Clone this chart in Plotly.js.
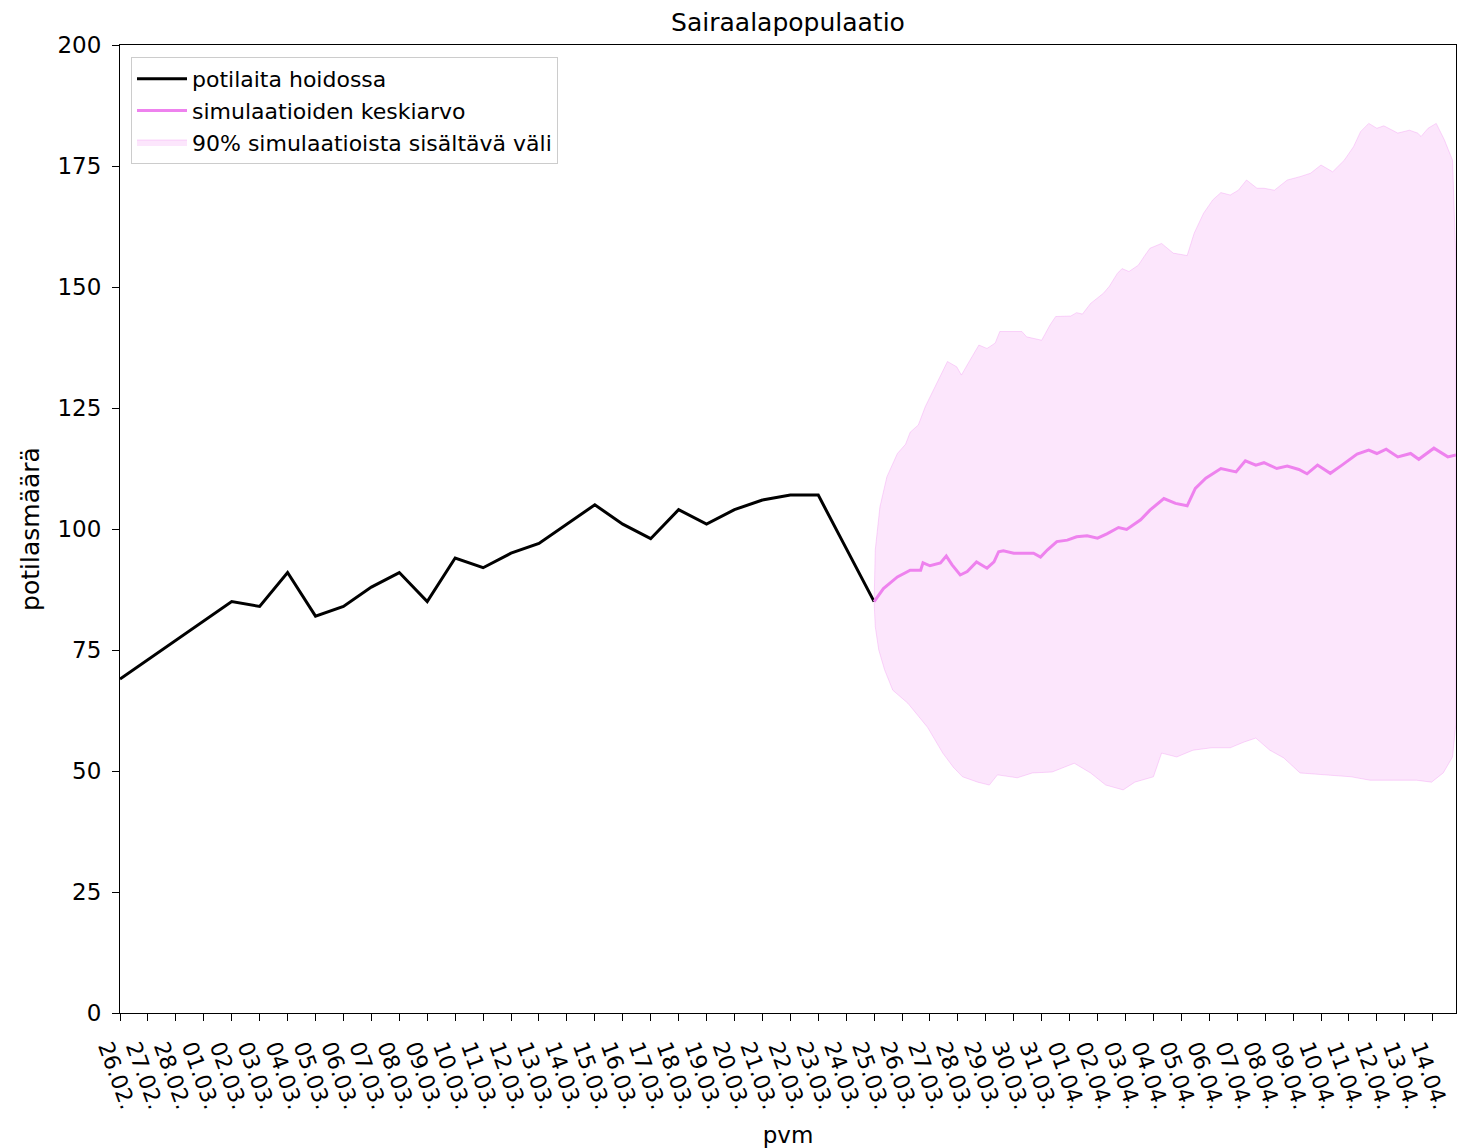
<!DOCTYPE html>
<html>
<head>
<meta charset="utf-8">
<script src="https://cdn.plot.ly/plotly-3.0.1.min.js"></script>
<style>
  html, body { margin: 0; padding: 0; background: #ffffff; }
  #chart { width: 1457px; height: 1148px; }
</style>
</head>
<body>
<div id="chart"></div>
<script>
// Observed patients in care (daily)
const observedDates = [
  '2021-02-26','2021-02-27','2021-02-28','2021-03-01','2021-03-02','2021-03-03','2021-03-04',
  '2021-03-05','2021-03-06','2021-03-07','2021-03-08','2021-03-09','2021-03-10','2021-03-11',
  '2021-03-12','2021-03-13','2021-03-14','2021-03-15','2021-03-16','2021-03-17','2021-03-18',
  '2021-03-19','2021-03-20','2021-03-21','2021-03-22','2021-03-23','2021-03-24','2021-03-25'
];
const observedValues = [69,73,77,81,85,84,91,82,84,88,91,85,94,92,95,97,101,105,101,98,104,101,104,106,107,107,96,85];

// Simulation start and time offsets (hours after the start)
const simStart = '2021-03-25T00:00:00Z';

const meanHours = [0,8,20,31,40,42,48,57,62,67,74,80,88,97,103,107,111,120,128,137,143,149,157,166,174,183,192,200,210,217,229,237,249,259,269,276,285,298,311,319,328,335,346,355,365,372,381,392,402,415,425,432,440,450,461,468,481,493,500];
const meanValues = [85.0,87.7,90.1,91.5,91.5,93.0,92.4,93.0,94.4,92.6,90.5,91.2,93.2,91.9,93.2,95.3,95.5,95.0,95.0,95.0,94.2,95.7,97.4,97.7,98.4,98.6,98.1,99.0,100.3,99.9,101.9,103.9,106.3,105.3,104.8,108.4,110.5,112.5,111.8,114.1,113.2,113.7,112.5,113.0,112.3,111.4,113.2,111.5,113.2,115.5,116.3,115.6,116.5,114.9,115.6,114.4,116.7,114.9,115.3];

const upperHours = [0,1,5,11,20,27,31,38,44,55,63,71,75,80,90,97,104,108,114,127,131,144,151,156,169,174,179,186,197,202,209,213,219,227,232,237,247,257,269,275,283,291,298,306,313,320,329,335,344,355,366,375,384,394,404,412,418,425,432,438,450,460,467,470,476,483,490,497,500];
const upperValues = [85,95.7,104.6,110.8,115.6,117.5,120,121.5,125.3,130.8,134.6,133.5,131.8,133.9,138.0,137.3,138.4,140.8,140.8,140.8,139.7,139.0,142.1,143.9,144.0,144.7,144.4,146.6,148.7,150.1,152.8,153.8,153.2,154.5,156.3,158.0,159.0,157.0,156.5,161.1,165.2,168.0,169.5,169.0,170.0,172.1,170.4,170.4,170.0,172.1,172.8,173.5,175.2,173.8,176.2,179.0,182.1,183.8,182.8,183.3,181.8,182.4,181.8,181.1,182.8,183.8,180.4,176.2,155];

const lowerHours = [0,1,4,9,16,29,46,59,68,76,89,99,106,123,136,153,172,186,199,214,224,240,247,260,274,290,306,318,328,340,352,366,388,410,426,446,466,479,489,497,500];
const lowerValues = [85,79.8,75,70.9,66.7,64,59,53.7,50.8,48.8,47.7,47.1,49.2,48.6,49.6,49.8,51.6,49.6,47.1,46.1,47.7,48.8,53.7,52.9,54.3,54.8,54.8,56,56.8,54.3,52.7,49.6,49.2,48.8,48.1,48.1,48.1,47.7,49.6,52.9,60];

const yTicks = [0,25,50,75,100,125,150,175,200];

function hoursToDate(h) {
  const d = new Date(new Date(simStart).getTime() + h * 3600000);
  return d.toISOString().slice(0, 16).replace('T', ' ');
}

const meanX = meanHours.map(hoursToDate);
const upperX = upperHours.map(hoursToDate);
const lowerX = lowerHours.map(hoursToDate);

const bandX = upperX.concat(lowerX.slice().reverse());
const bandY = upperValues.concat(lowerValues.slice().reverse());

const traces = [
  {
    x: bandX, y: bandY, type: 'scatter', mode: 'lines',
    fill: 'toself', fillcolor: 'rgba(238,130,238,0.2)',
    line: { color: 'rgba(238,130,238,0.3)', width: 1 },
    name: '90% simulaatioista sisältävä väli', legendrank: 3, hoverinfo: 'skip'
  },
  {
    x: observedDates, y: observedValues, type: 'scatter', mode: 'lines',
    line: { color: '#000000', width: 3 },
    name: 'potilaita hoidossa', legendrank: 1
  },
  {
    x: meanX, y: meanValues, type: 'scatter', mode: 'lines',
    line: { color: '#EE82EE', width: 3 },
    name: 'simulaatioiden keskiarvo', legendrank: 2
  }
];

const layout = {
  width: 1457, height: 1148,
  margin: { l: 120, r: 1, t: 45, b: 135 },
  paper_bgcolor: '#ffffff', plot_bgcolor: '#ffffff',
  font: { family: 'DejaVu Sans, sans-serif', color: '#000000', size: 22 },
  title: {
    text: 'Sairaalapopulaatio',
    font: { family: 'DejaVu Sans, sans-serif', size: 25, color: '#000000' },
    x: 0.5, xref: 'paper', xanchor: 'center',
    y: 1 - 22 / 1148, yref: 'container', yanchor: 'middle'
  },
  showlegend: true,
  legend: {
    x: 11 / 1336, y: (1013 - 57) / 968, xanchor: 'left', yanchor: 'top',
    bgcolor: 'rgba(255,255,255,0.85)', bordercolor: '#cccccc', borderwidth: 1,
    font: { family: 'DejaVu Sans, sans-serif', size: 22, color: '#000000' },
    itemwidth: 50, traceorder: 'normal'
  },
  xaxis: {
    type: 'date',
    range: ['2021-02-26 00:00', '2021-04-14 20:00'],
    tick0: '2021-02-26', dtick: 86400000,
    tickformat: '%d.%m.',
    tickangle: 70,
    ticks: 'outside', ticklen: 7, tickwidth: 1, tickcolor: '#000000',
    ticklabelshift: -12, ticklabelstandoff: 5,
    tickfont: { family: 'DejaVu Sans, sans-serif', size: 22, color: '#000000' },
    showline: true, linecolor: '#000000', linewidth: 1, mirror: true,
    showgrid: false, zeroline: false,
    title: { text: 'pvm', standoff: 15, font: { family: 'DejaVu Sans, sans-serif', size: 23, color: '#000000' } }
  },
  yaxis: {
    range: [0, 200],
    tickvals: yTicks,
    ticks: 'outside', ticklen: 7, tickwidth: 1, tickcolor: '#000000',
    ticklabelstandoff: 6,
    tickfont: { family: 'DejaVu Sans, sans-serif', size: 23, color: '#000000' },
    showline: true, linecolor: '#000000', linewidth: 1, mirror: true,
    showgrid: false, zeroline: false,
    title: { text: 'potilasmäärä', standoff: 10, font: { family: 'DejaVu Sans, sans-serif', size: 25, color: '#000000' } }
  }
};

Plotly.newPlot('chart', traces, layout, { displayModeBar: false, staticPlot: true });
</script>
</body>
</html>
